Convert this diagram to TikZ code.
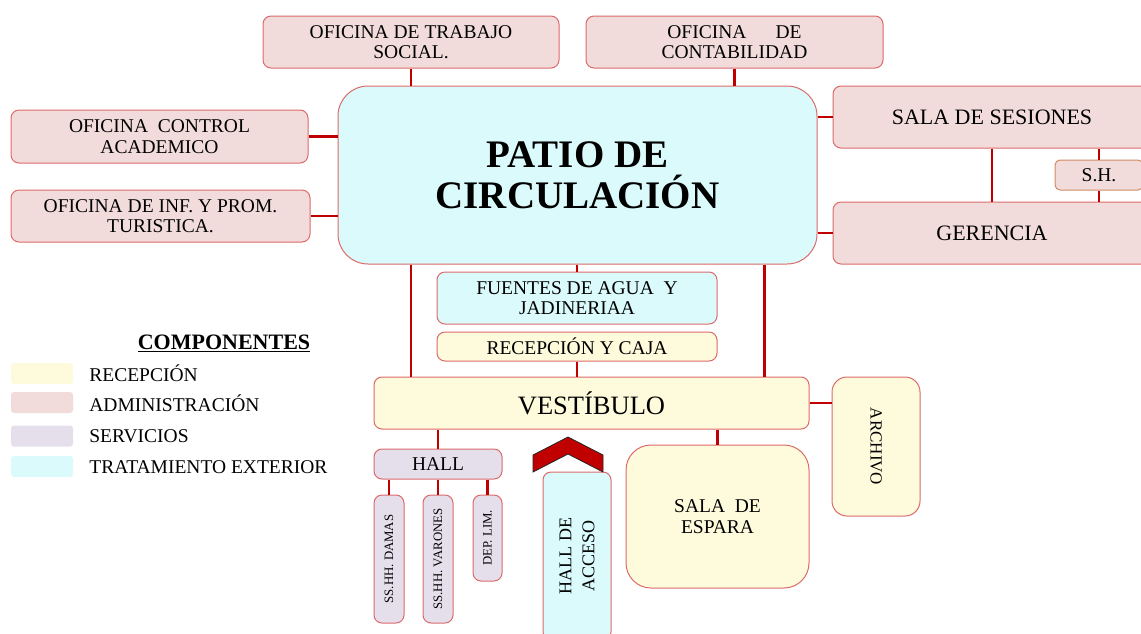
\documentclass[tikz,border=0pt]{standalone}
\usepackage{fontspec}
\setmainfont{Liberation Serif}
\usetikzlibrary{positioning}
\definecolor{admfill}{HTML}{F2DCDB}
\definecolor{recfill}{HTML}{FDFBDC}
\definecolor{serfill}{HTML}{E5DFEC}
\definecolor{extfill}{HTML}{DAFAFC}
\definecolor{brd}{HTML}{DD6A6A}
\definecolor{shbrd}{HTML}{CF8A62}
\definecolor{conn}{HTML}{C00000}

\begin{document}
\begin{tikzpicture}[x=1pt,y=-1pt,font=\fontsize{19.5}{20.5}\selectfont,
 b/.style={draw=brd,line width=1pt,rounded corners=8pt,align=center,inner sep=0pt},
 adm/.style={b,fill=admfill},rec/.style={b,fill=recfill},ser/.style={b,fill=serfill},ext/.style={b,fill=extfill},
 ln/.style={draw=conn,line width=2.5pt},
 sw/.style={rounded corners=3pt,minimum width=62pt,minimum height=21pt,inner sep=0pt},
 lg/.style={inner sep=0pt,text height=13pt,text depth=0pt}]
\clip (0,0) rectangle (1141,633);
\node[adm,minimum width=296pt,minimum height=52pt](tra) at (411,42){OFICINA DE TRABAJO\\SOCIAL.};
\node[adm,minimum width=297pt,minimum height=52pt](con) at (734.5,42){OFICINA\quad\ \ DE\\CONTABILIDAD};
\node[ext,rounded corners=30pt,minimum width=479pt,minimum height=178pt,font=\fontsize{39}{41}\selectfont\bfseries](pat) at (577.5,175){PATIO DE\\CIRCULACIÓN};
\node[adm,minimum width=297pt,minimum height=53pt](ctl) at (159.5,136.5){OFICINA\ \ CONTROL\\ACADEMICO};
\node[adm,minimum width=299pt,minimum height=52pt](inf) at (160.5,216){OFICINA DE INF. Y PROM.\\TURISTICA.};
\node[adm,minimum width=318pt,minimum height=62pt,font=\fontsize{22}{24}\selectfont](ses) at (992,117){SALA DE SESIONES};
\node[adm,minimum width=318pt,minimum height=62pt,font=\fontsize{22}{24}\selectfont](ger) at (992,233){GERENCIA};
\node[adm,draw=shbrd,rounded corners=5pt,minimum width=88pt,minimum height=30pt](sh) at (1099,175){S.H.};
\node[ext,minimum width=280pt,minimum height=52pt](fue) at (577,298){FUENTES DE AGUA\ \ Y\\JADINERIAA};
\node[rec,minimum width=280pt,minimum height=29pt](rcj) at (577,346.5){RECEPCIÓN Y CAJA};
\node[rec,minimum width=435pt,minimum height=52pt,font=\fontsize{26.5}{28}\selectfont](ves) at (591.5,403){VESTÍBULO};
\node[rec,rounded corners=15pt,rotate=-90,minimum width=139pt,minimum height=88pt,font=\fontsize{17}{20}\selectfont](arc) at (876,446.5){ARCHIVO};
\node[ser,minimum width=128pt,minimum height=30pt](hal) at (438,464){HALL};
\node[ser,rotate=90,minimum width=128pt,minimum height=30pt,font=\fontsize{12.8}{15}\selectfont](dam) at (389,559){SS.HH. DAMAS};
\node[ser,rotate=90,minimum width=128pt,minimum height=30pt,font=\fontsize{12.8}{15}\selectfont](var) at (438,559){SS.HH. VARONES};
\node[ser,rotate=90,minimum width=86pt,minimum height=29pt,font=\fontsize{12.8}{15}\selectfont](dep) at (487.5,538){DEP. LIM.};
\node[ext,rotate=90,minimum width=168pt,minimum height=68pt,font=\fontsize{18}{23}\selectfont](acc) at (577,556){HALL DE\\ACCESO};
\node[rec,rounded corners=25pt,minimum width=183pt,minimum height=143pt](esp) at (717.5,516.5){SALA\ \ DE\\ESPARA};
\draw[ln](tra.south)--(tra.south|-pat.north);
\draw[ln](con.south)--(con.south|-pat.north);
\draw[ln](ctl.east)--(ctl.east-|pat.west);
\draw[ln](inf.east)--(inf.east-|pat.west);
\draw[ln](pat.east|-ses)--(ses.west);
\draw[ln](pat.east|-ger)--(ger.west);
\draw[ln](ses.south)--(ger.north);
\draw[ln](sh.north)--(sh.north|-ses.south);
\draw[ln](sh.south)--(sh.south|-ger.north);
\draw[ln](pat.south-|fue.north)--(fue.north);
\draw[ln](rcj.south)--(rcj.south|-ves.north);
\draw[ln](pat.south-|tra)--(ves.north-|tra);
\draw[ln]([xshift=-45pt]ves.north east)--([xshift=-45pt]ves.north east|-pat.south);
\draw[ln](ves.east)--(ves.east-|arc.south);
\draw[ln](hal.north)--(hal.north|-ves.south);
\draw[ln](dam.east)--(dam.east|-hal.south);
\draw[ln](var.east)--(var.east|-hal.south);
\draw[ln](dep.east)--(dep.east|-hal.south);
\draw[ln](esp.north)--(esp.north|-ves.south);
\filldraw[fill=conn,draw=black!85,line width=0.8pt](533,472)--(533,455)--(568,437)--(603,455)--(603,472)--(568,454)--cycle;
\node[font=\fontsize{22}{24}\selectfont\bfseries](cmp) at (224,343){\underline{COMPONENTES}};
\node[sw,fill=recfill](sw1) at (42,373.5){};
\node[sw,fill=admfill](sw2) at (42,402.5){};
\node[sw,fill=serfill](sw3) at (42,436){};
\node[sw,fill=extfill](sw4) at (42,466.5){};
\node[lg,right=16pt of sw1,yshift=-1pt](l1){RECEPCIÓN};
\node[lg,right=16pt of sw2,yshift=-2pt](l2){ADMINISTRACIÓN};
\node[lg,right=16pt of sw3](l3){SERVICIOS};
\node[lg,right=16pt of sw4](l4){TRATAMIENTO EXTERIOR};
\end{tikzpicture}
\end{document}
